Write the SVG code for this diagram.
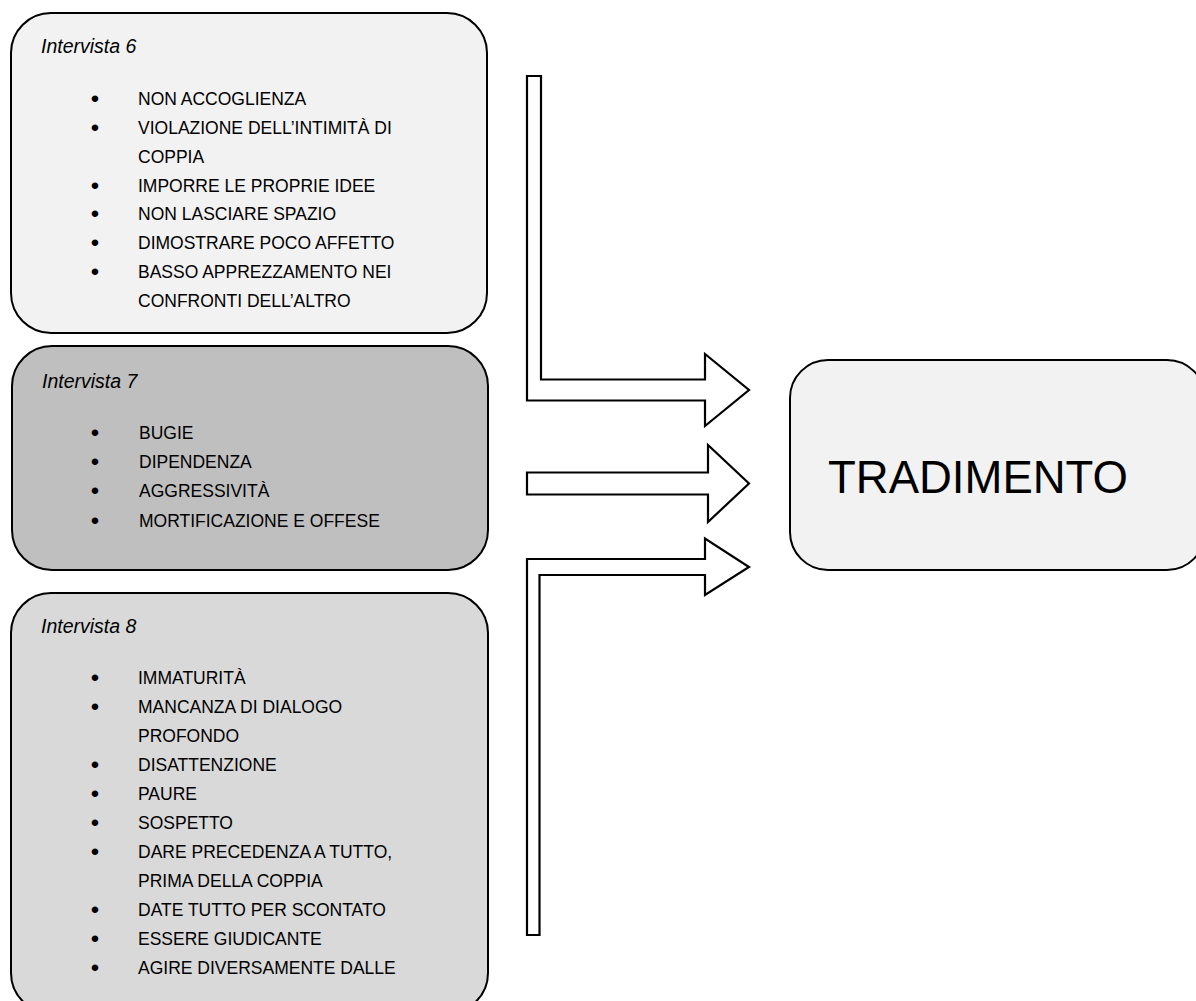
<svg xmlns="http://www.w3.org/2000/svg" width="1196" height="1001" viewBox="0 0 1196 1001">
<style>
.box{stroke:#000;stroke-width:2}
.arrow{fill:#fff;stroke:#000;stroke-width:2.2;stroke-linejoin:miter}
.hdr{font-family:"Liberation Sans",Arial,sans-serif;font-style:italic;font-size:19.5px;fill:#000}
.item{font-family:"Liberation Sans",Arial,sans-serif;font-size:17.5px;fill:#000}
.bul{font-family:"Liberation Sans",Arial,sans-serif;font-size:24px;fill:#000;text-anchor:middle}
.big{font-family:"Liberation Sans",Arial,sans-serif;font-size:45.5px;fill:#000}
</style>
<rect width="1196" height="1001" fill="#fff"/>
<g id="connectors">
<polygon class="arrow" points="527,76 541,76 541,379.5 705,379.5 705,354 749,390 705,426 705,400.5 527,400.5"/>
<polygon class="arrow" points="527,472.5 708,472.5 708,445 749,483.5 708,522 708,494.5 527,494.5"/>
<polygon class="arrow" points="527,935 527,559 705,559 705,538.5 749,567 705,595 705,575 539.5,575 539.5,935"/>
</g>
<g id="intervista6">
<rect class="box" x="11" y="13" width="476" height="320" rx="40" fill="#f2f2f2"/>
<text class="hdr" x="41" y="53">Intervista 6</text>
<g class="bul"><text x="95" y="107">•</text><text x="95" y="136">•</text><text x="95" y="193.5">•</text><text x="95" y="222">•</text><text x="95" y="251">•</text><text x="95" y="280">•</text></g>
<g class="item">
<text x="138" y="105">NON ACCOGLIENZA</text>
<text x="138" y="134">VIOLAZIONE DELL’INTIMITÀ DI</text>
<text x="138" y="163">COPPIA</text>
<text x="138" y="191.5">IMPORRE LE PROPRIE IDEE</text>
<text x="138" y="220">NON LASCIARE SPAZIO</text>
<text x="138" y="249">DIMOSTRARE POCO AFFETTO</text>
<text x="138" y="278">BASSO APPREZZAMENTO NEI</text>
<text x="138" y="307">CONFRONTI DELL’ALTRO</text>
</g>
</g>
<g id="intervista7">
<rect class="box" x="12" y="346" width="476" height="224" rx="40" fill="#bfbfbf"/>
<text class="hdr" x="42" y="388">Intervista 7</text>
<g class="bul"><text x="95" y="441">•</text><text x="95" y="470">•</text><text x="95" y="499">•</text><text x="95" y="528.5">•</text></g>
<g class="item">
<text x="139" y="439">BUGIE</text>
<text x="139" y="468">DIPENDENZA</text>
<text x="139" y="497">AGGRESSIVITÀ</text>
<text x="139" y="526.5">MORTIFICAZIONE E OFFESE</text>
</g>
</g>
<g id="intervista8">
<rect class="box" x="11" y="593" width="477" height="420" rx="40" fill="#d9d9d9"/>
<text class="hdr" x="41" y="633">Intervista 8</text>
<g class="bul"><text x="95" y="686">•</text><text x="95" y="715">•</text><text x="95" y="773">•</text><text x="95" y="802">•</text><text x="95" y="831">•</text><text x="95" y="860">•</text><text x="95" y="918">•</text><text x="95" y="947">•</text><text x="95" y="976">•</text></g>
<g class="item">
<text x="138" y="684">IMMATURITÀ</text>
<text x="138" y="713">MANCANZA DI DIALOGO</text>
<text x="138" y="742">PROFONDO</text>
<text x="138" y="771">DISATTENZIONE</text>
<text x="138" y="800">PAURE</text>
<text x="138" y="829">SOSPETTO</text>
<text x="138" y="858">DARE PRECEDENZA A TUTTO,</text>
<text x="138" y="887">PRIMA DELLA COPPIA</text>
<text x="138" y="916">DATE TUTTO PER SCONTATO</text>
<text x="138" y="945">ESSERE GIUDICANTE</text>
<text x="138" y="974">AGIRE DIVERSAMENTE DALLE</text>
</g>
</g>
<g id="tradimento">
<rect class="box" x="790" y="360" width="415" height="210" rx="38" fill="#f2f2f2"/>
<text class="big" x="828" y="493">TRADIMENTO</text>
</g>
</svg>
